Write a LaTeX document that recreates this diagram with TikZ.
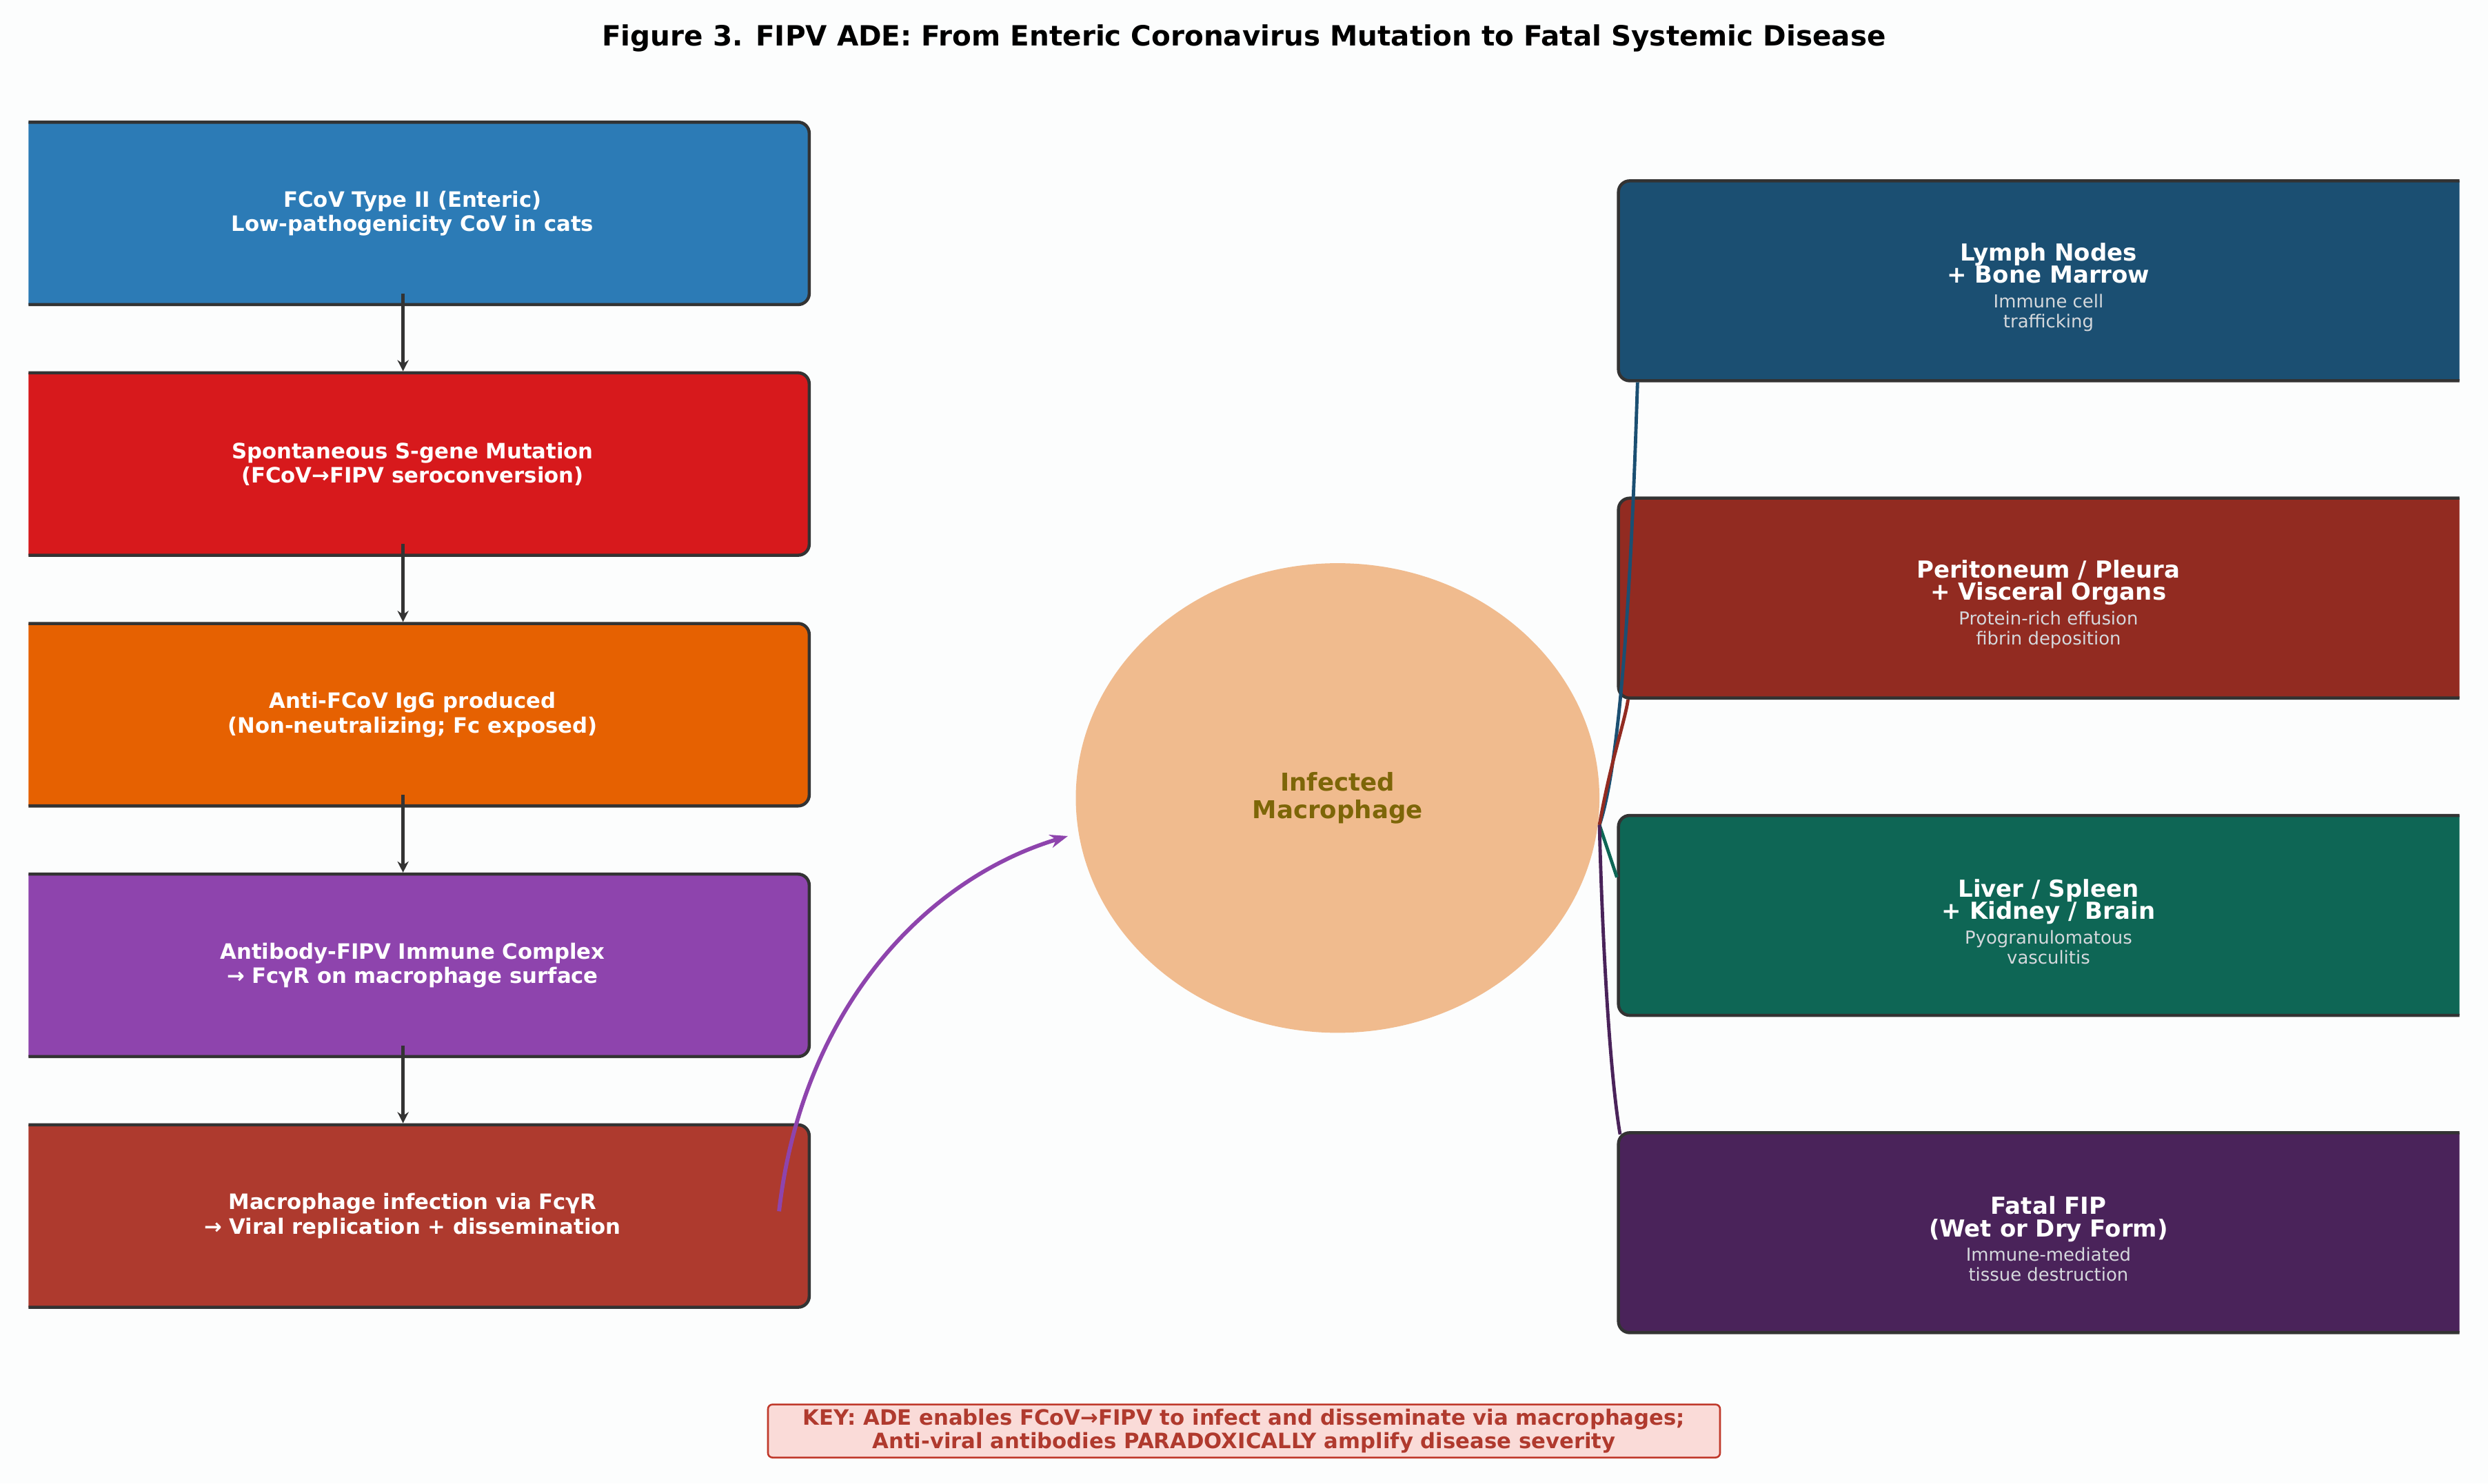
\documentclass[tikz,border=0pt]{standalone}
\usepackage{fontspec}
\setmainfont{DejaVu Sans}
\usetikzlibrary{arrows.meta,calc,shapes.geometric}
\definecolor{bg}{HTML}{FCFDFD}
\definecolor{cA}{HTML}{2C7BB6}\definecolor{cB}{HTML}{D7191C}\definecolor{cC}{HTML}{E66101}
\definecolor{cD}{HTML}{8E44AD}\definecolor{cE}{HTML}{AE3A2E}
\definecolor{rA}{HTML}{1B4F72}\definecolor{rB}{HTML}{922B21}\definecolor{rC}{HTML}{0E6655}\definecolor{rD}{HTML}{4A235A}
\definecolor{mac}{HTML}{F0BB8E}\definecolor{mtxt}{HTML}{7D6608}
\definecolor{sub}{HTML}{D5D8DC}\definecolor{keyf}{HTML}{FADBD8}\definecolor{keyd}{HTML}{C0392B}\definecolor{keyt}{HTML}{B03A2E}
\newcommand\rtl{\bfseries\fontsize{10.5}{12}\selectfont}
\newcommand\rsb{\mdseries\fontsize{8}{9}\selectfont\color{sub}}
\begin{document}
\begin{tikzpicture}[x=0.025cm,y=-0.025cm,
  lbox/.style={draw=black!80,line width=1.4pt,rounded corners=5pt,minimum width=500*0.025cm,minimum height=115*0.025cm,
    text=white,font=\bfseries\fontsize{9.5}{11}\selectfont,align=center},
  rbox/.style={draw=black!80,line width=1.4pt,rounded corners=5pt,minimum width=560*0.025cm,minimum height=126*0.025cm},
  rtxt/.style={align=center,text=white},
  flowarrow/.style={draw=black!80,line width=1.5pt,-{Stealth[length=5pt,width=5pt]}}]
\fill[bg] (0,0) rectangle (1568,935);
\useasboundingbox (0,0) rectangle (1568,935);
\node[font=\bfseries\fontsize{12.5}{14}\selectfont] (title) at (784,24) {Figure 3. FIPV ADE: From Enteric Coronavirus Mutation to Fatal Systemic Disease};
\begin{scope}
\clip (18,0) rectangle (1550,935);
\node[lbox,fill=cA] (a) at (260,134.5) {FCoV Type II (Enteric)\\Low-pathogenicity CoV in cats};
\node[lbox,fill=cB] (b) at (260,292.5) {Spontaneous S-gene Mutation\\(FCoV→FIPV seroconversion)};
\node[lbox,fill=cC] (c) at (260,450.5) {Anti-FCoV IgG produced\\(Non-neutralizing; Fc exposed)};
\node[lbox,fill=cD] (d) at (260,608.5) {Antibody-FIPV Immune Complex\\→ FcγR on macrophage surface};
\node[lbox,fill=cE] (e) at (260,766.5) {Macrophage infection via FcγR\\→ Viral replication + dissemination};
\node[rbox,fill=rA] (l) at (1300,177) {};
\node[rbox,fill=rB] (p) at (1300,377) {};
\node[rbox,fill=rC] (v) at (1300,577) {};
\node[rbox,fill=rD] (f) at (1300,777) {};
\end{scope}
\node[rtxt] (lt) at (1291,181) {\rtl Lymph Nodes\\[-2pt]\rtl + Bone Marrow\\[-1pt]\rsb Immune cell\\[-3pt]\rsb trafficking};
\node[rtxt] (pt) at (1291,381) {\rtl Peritoneum / Pleura\\[-2pt]\rtl + Visceral Organs\\[-1pt]\rsb Protein-rich effusion\\[-3pt]\rsb fibrin deposition};
\node[rtxt] (vt) at (1291,581) {\rtl Liver / Spleen\\[-2pt]\rtl + Kidney / Brain\\[-1pt]\rsb Pyogranulomatous\\[-3pt]\rsb vasculitis};
\node[rtxt] (ft) at (1291,781) {\rtl Fatal FIP\\[-2pt]\rtl (Wet or Dry Form)\\[-1pt]\rsb Immune-mediated\\[-3pt]\rsb tissue destruction};
\node[ellipse,fill=mac,minimum width=330*0.025cm,minimum height=296*0.025cm,inner sep=0pt,
  text=mtxt,font=\bfseries\fontsize{11}{12.5}\selectfont,align=center] (m) at (843,503) {Infected\\Macrophage};
\draw[flowarrow] ($(a.south)+(-6,-8)$) -- ($(b.north)+(-6,0)$);
\draw[flowarrow] ($(b.south)+(-6,-8)$) -- ($(c.north)+(-6,0)$);
\draw[flowarrow] ($(c.south)+(-6,-8)$) -- ($(d.north)+(-6,0)$);
\draw[flowarrow] ($(d.south)+(-6,-8)$) -- ($(e.north)+(-6,0)$);
\coordinate (es) at ($(e.east)+(-20,-3)$);
\coordinate (mt) at ($(m.center)+(-170,24)$);
\draw[cD,line width=1.8pt,-{Stealth[length=8pt,width=6pt]}] (es) .. controls (505,640) and (580,555) .. (mt);
\coordinate (mo) at ($(m.center)+(165,17)$);
\draw[rA,line width=1.5pt] (mo) .. controls (1025,470) and (1030,300) .. ($(l.south west)+(13,0)$);
\draw[rB,line width=1.5pt] (mo) .. controls (1015,480) and (1024,455) .. ($(p.south west)+(7,0)$);
\draw[rC,line width=1.5pt] (mo) -- ($(v.west)+(0,-24)$);
\draw[rD,line width=1.5pt] (mo) .. controls (1010,600) and (1015,680) .. ($(f.north west)+(2,2)$);
\node[draw=keyd,fill=keyf,rounded corners=2pt,line width=0.8pt,text=keyt,align=center,
  font=\bfseries\fontsize{9.5}{10.5}\selectfont,inner sep=2pt,minimum width=600*0.025cm] (key) at (784,902)
  {KEY: ADE enables FCoV→FIPV to infect and disseminate via macrophages;\\Anti-viral antibodies PARADOXICALLY amplify disease severity};
\end{tikzpicture}
\end{document}
